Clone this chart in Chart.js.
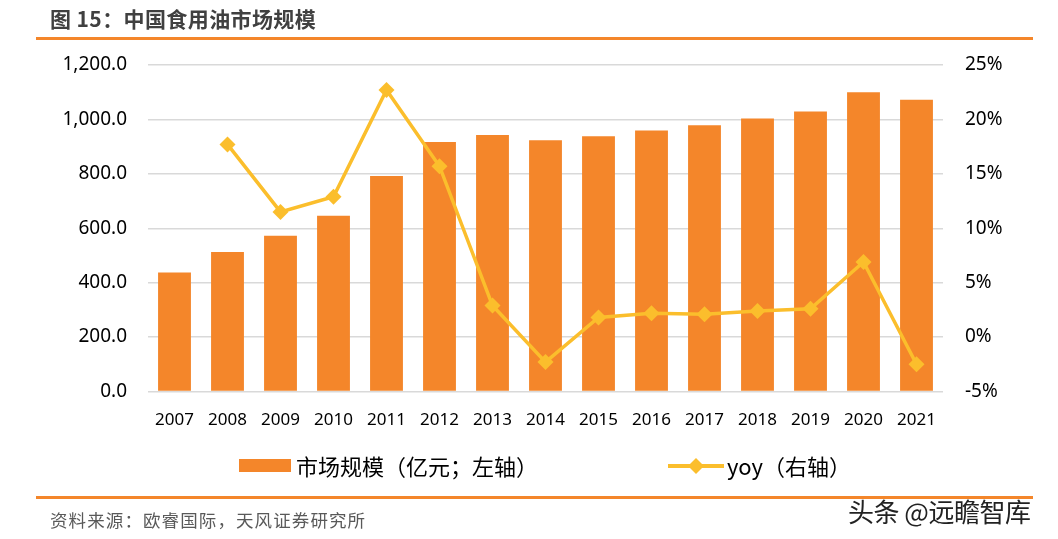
<!DOCTYPE html>
<html>
<head>
<meta charset="utf-8">
<script src="https://cdn.jsdelivr.net/npm/chart.js@4.4.1/dist/chart.umd.min.js"></script>
<style>
  html, body { margin: 0; padding: 0; background: #fff; }
  #wrap { position: relative; width: 1058px; height: 539px; overflow: hidden;
          font-family: "Noto Sans", "Noto Sans CJK SC", sans-serif; }
  #chart { position: absolute; left: 0; top: 0; }
  .title { position: absolute; left: 50px; top: 3px; font-size: 21px; font-weight: bold;
           color: #404040; font-family: "Noto Sans CJK SC", sans-serif; letter-spacing: 0.4px; }
  .rule { position: absolute; left: 36px; width: 997px; height: 3px; background: #F4862A; }
  .legend { position: absolute; top: 451px; font-size: 22px; color: #000;
            font-family: "Noto Sans CJK SC", sans-serif; line-height: 28px; }
  .swatch { position: absolute; left: 239px; top: 459px; width: 52px; height: 13px; background: #F4862A; }
  .source { position: absolute; left: 50px; top: 507px; font-size: 17.5px; color: #595959;
            font-family: "Noto Sans CJK SC", sans-serif; letter-spacing: 1.1px; }
  .mark { position: absolute; left: 848px; top: 492px; font-size: 26px; color: #222;
          font-family: "Noto Sans CJK SC", sans-serif; letter-spacing: -0.5px; }
</style>
</head>
<body>
<div id="wrap">
  <canvas id="chart" width="1058" height="539"></canvas>
  <div class="title">图 15：中国食用油市场规模</div>
  <div class="rule" style="top:37px"></div>
  <div class="swatch"></div>
  <div class="legend" style="left:296px">市场规模（亿元；左轴）</div>
  <svg style="position:absolute;left:668px;top:455px" width="56" height="22">
    <line x1="0" y1="11" x2="56" y2="11" stroke="#FBBE2C" stroke-width="4"/>
    <polygon points="28,3 36,11 28,19 20,11" fill="#FBBE2C"/>
  </svg>
  <div class="legend" style="left:727px">yoy（右轴）</div>
  <div class="rule" style="top:496px"></div>
  <div class="source">资料来源：欧睿国际，天风证券研究所</div>
  <div class="mark">头条 @远瞻智库</div>
</div>
<script>
// 中国食用油市场规模 (亿元) and yoy
const years = ['2007', '2008', '2009', '2010', '2011', '2012', '2013', '2014',
               '2015', '2016', '2017', '2018', '2019', '2020', '2021'];
const marketSize = [437, 513, 572, 646, 792, 917, 943, 923, 938, 959, 979, 1003, 1029, 1100, 1072];
const yoyPct = [null, 17.7, 11.5, 12.9, 22.7, 15.7, 2.9, -2.3, 1.8, 2.2, 2.1, 2.4, 2.6, 6.9, -2.5];
const leftTicks = [0, 200, 400, 600, 800, 1000, 1200];
const rightTicks = [-5, 0, 5, 10, 15, 20, 25];

const BAR_COLOR = '#F4862A';
const LINE_COLOR = '#FBBE2C';
const GRID_COLOR = '#D9D9D9';
const tickFont = { family: '"Noto Sans", sans-serif', size: 19 };

const ctx = document.getElementById('chart').getContext('2d');
new Chart(ctx, {
    data: {
        labels: years,
        datasets: [
            {
                type: 'line',
                label: 'yoy（右轴）',
                data: yoyPct,
                yAxisID: 'yR',
                borderColor: LINE_COLOR,
                backgroundColor: LINE_COLOR,
                borderWidth: 3.5,
                pointStyle: 'rectRot',
                pointRadius: 8,
                pointBorderWidth: 0,
                tension: 0,
                spanGaps: false,
                order: 0
            },
            {
                type: 'bar',
                label: '市场规模（亿元；左轴）',
                data: marketSize,
                yAxisID: 'yL',
                backgroundColor: BAR_COLOR,
                barPercentage: 0.62,
                categoryPercentage: 1,
                order: 1
            }
        ]
    },
    options: {
        responsive: false,
        animation: false,
        layout: { padding: { top: 65, bottom: 107.5, left: 0, right: 0 } },
        plugins: { legend: { display: false }, tooltip: { enabled: false } },
        scales: {
            x: {
                grid: { display: false },
                border: { display: false },
                ticks: { color: '#000', font: { family: '"Noto Sans", sans-serif', size: 17 }, padding: 10, maxRotation: 0 },
                afterFit: (s) => { s.height = 40; }
            },
            yL: {
                position: 'left',
                min: 0, max: 1200,
                afterBuildTicks: (s) => { s.ticks = leftTicks.map(v => ({ value: v })); },
                grid: { color: GRID_COLOR, lineWidth: 1.5, drawTicks: false },
                border: { display: false },
                ticks: {
                    color: '#000', font: tickFont, padding: 21,
                    callback: (v) => v.toLocaleString('en-US', { minimumFractionDigits: 1, maximumFractionDigits: 1 })
                },
                afterFit: (s) => { s.width = 148; }
            },
            yR: {
                position: 'right',
                min: -5, max: 25,
                afterBuildTicks: (s) => { s.ticks = rightTicks.map(v => ({ value: v })); },
                grid: { display: false },
                border: { display: false },
                ticks: { color: '#000', font: tickFont, padding: 14, callback: (v) => v + '%' },
                afterFit: (s) => { s.width = 115; }
            }
        }
    }
});
</script>
</body>
</html>
